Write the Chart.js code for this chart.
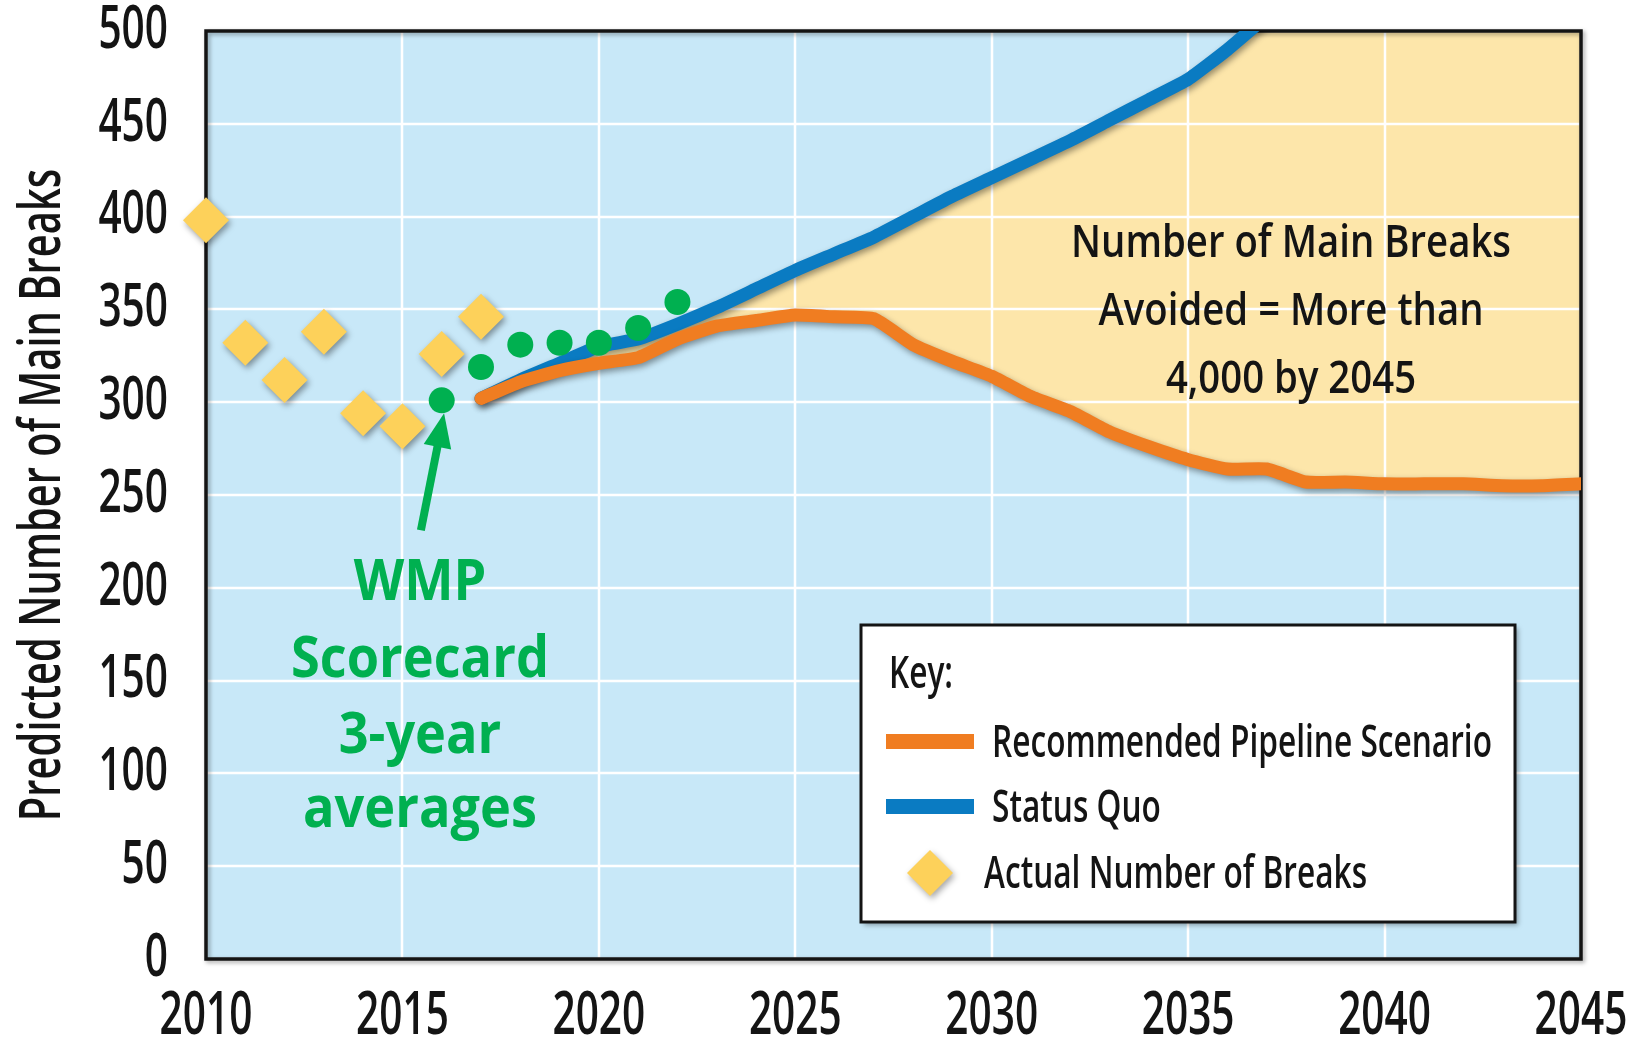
<!DOCTYPE html>
<html>
<head>
<meta charset="utf-8">
<title>Predicted Number of Main Breaks</title>
<script src="https://cdn.jsdelivr.net/npm/chart.js@4.4.1/dist/chart.umd.min.js"></script>
<style>
  html, body { margin: 0; padding: 0; background: #fff; }
  #wrap { width: 1634px; height: 1044px; position: relative; }
</style>
</head>
<body>
<div id="wrap"><canvas id="chart"></canvas></div>
<script>
// Values
const actualYears = [2010, 2011, 2012, 2013, 2014, 2015, 2016, 2017];
const actualBreaks = [398, 332, 312, 338, 294, 287, 326, 346];

const scorecardYears = [2016, 2017, 2018, 2019, 2020, 2021, 2022];
const scorecardAverages = [301, 319, 331, 332, 332, 340, 354];

const recommendedYears = [2017, 2018, 2019, 2020, 2021, 2022, 2023, 2024, 2025, 2026,
    2027, 2028, 2029, 2030, 2031, 2032, 2033, 2034, 2035, 2036,
    2037, 2038, 2039, 2040, 2041, 2042, 2043, 2044, 2045];
const recommendedBreaks = [302, 311, 317, 321, 324, 334, 341, 344, 347, 346,
    345, 331, 322, 314, 303, 295, 284, 276, 269, 264,
    264, 257, 257, 256, 256, 256, 255, 255, 256];

const statusQuoYears = [2017, 2018, 2019, 2020, 2021, 2022, 2023, 2024, 2025, 2026,
    2027, 2028, 2029, 2030, 2031, 2032, 2033, 2034, 2035, 2036, 2037];
const statusQuoBreaks = [302, 312, 321, 330, 334, 342, 351, 361, 371, 380,
    389, 400, 411, 421, 431, 441, 452, 463, 474, 490, 508];

const xTickLabels = ['2010', '2015', '2020', '2025', '2030', '2035', '2040', '2045'];
const yTickLabels = ['0', '50', '100', '150', '200', '250', '300', '350', '400', '450', '500'];

const avoidedNote = ['Number of Main Breaks', 'Avoided = More than', '4,000 by 2045'];
const scorecardNote = ['WMP', 'Scorecard', '3-year', 'averages'];

// Colours
const BG_BLUE = '#C8E8F8';
const AVOIDED_YELLOW = '#FDE6AA';
const ORANGE = '#F07D21';
const BLUE = '#0A7BC2';
const DIAMOND = '#FDD15A';
const GREEN = '#00B050';
const INK = '#141414';

const FONT = '"Open Sans", "Liberation Sans", sans-serif';
const TEXT_WEIGHT = '600';
let condense = 0.7;

function pairs(xs, ys) {
    return xs.map((x, i) => ({ x: x, y: ys[i] }));
}

// narrow face for the axis text: squeeze each string around its anchor
function condensedFillText(text, x, y) {
    this.save();
    this.translate(x, y);
    this.scale(condense, 1);
    CanvasRenderingContext2D.prototype.fillText.call(this, text, 0, 0);
    this.restore();
}

function drawText(ctx, text, x, y, font, sx, align, color) {
    ctx.save();
    ctx.font = font;
    ctx.fillStyle = color;
    ctx.textAlign = align;
    ctx.textBaseline = 'alphabetic';
    ctx.translate(x, y);
    ctx.scale(sx, 1);
    ctx.fillText(text, 0, 0);
    ctx.restore();
}

function diamond(ctx, cx, cy, r) {
    ctx.beginPath();
    ctx.moveTo(cx - r, cy);
    ctx.lineTo(cx, cy - r);
    ctx.lineTo(cx + r, cy);
    ctx.lineTo(cx, cy + r);
    ctx.closePath();
    ctx.fill();
}

const shadowed = ['Recommended Pipeline Scenario', 'Status Quo', 'Actual Number of Breaks'];

const chartDecor = {
    id: 'chartDecor',
    beforeDraw(chart) {
        const ctx = chart.ctx;
        const a = chart.chartArea;
        ctx.save();
        ctx.font = TEXT_WEIGHT + ' 46px ' + FONT;
        condense = 500 / ctx.measureText('Recommended Pipeline Scenario').width;
        ctx.fillStyle = BG_BLUE;
        ctx.fillRect(a.left, a.top, a.right - a.left, a.bottom - a.top);
        ctx.restore();
        ctx.fillText = condensedFillText;
    },
    beforeDatasetsDraw(chart) {
        const ctx = chart.ctx;
        const a = chart.chartArea;
        const xs = chart.scales.x;
        const ys = chart.scales.y;
        delete ctx.fillText;

        // white grid over the filled areas
        ctx.save();
        ctx.strokeStyle = '#ffffff';
        ctx.lineWidth = 2.5;
        ctx.beginPath();
        xs.ticks.forEach(t => {
            const px = Math.round(xs.getPixelForValue(t.value));
            ctx.moveTo(px, a.top);
            ctx.lineTo(px, a.bottom);
        });
        ys.ticks.forEach(t => {
            const py = Math.round(ys.getPixelForValue(t.value));
            ctx.moveTo(a.left, py);
            ctx.lineTo(a.right, py);
        });
        ctx.stroke();

        // frame
        ctx.shadowColor = 'rgba(0,0,0,0.35)';
        ctx.shadowBlur = 4;
        ctx.shadowOffsetX = 2;
        ctx.shadowOffsetY = 2;
        ctx.strokeStyle = INK;
        ctx.lineWidth = 3.5;
        ctx.strokeRect(a.left, a.top, a.right - a.left, a.bottom - a.top);
        ctx.restore();
    },
    beforeDatasetDraw(chart, args) {
        const ds = chart.data.datasets[args.index];
        if (shadowed.indexOf(ds.label) === -1) return;
        const ctx = chart.ctx;
        ctx.save();
        ctx.shadowColor = 'rgba(0,0,0,0.4)';
        ctx.shadowBlur = 6;
        ctx.shadowOffsetX = 2;
        ctx.shadowOffsetY = 3;
    },
    afterDatasetDraw(chart, args) {
        const ds = chart.data.datasets[args.index];
        if (shadowed.indexOf(ds.label) === -1) return;
        chart.ctx.restore();
    },
    afterDatasetsDraw(chart) {
        const ctx = chart.ctx;
        const xs = chart.scales.x;
        const ys = chart.scales.y;

        // avoided breaks note
        const noteFont = TEXT_WEIGHT + ' 45px ' + FONT;
        ctx.save();
        ctx.font = noteFont;
        const noteScale = 440 / ctx.measureText(avoidedNote[0]).width;
        ctx.restore();
        avoidedNote.forEach((line, i) => {
            drawText(ctx, line, 1291, 257 + i * 68, noteFont, noteScale, 'center', INK);
        });

        // scorecard note and arrow
        const boldFont = 'bold 57px ' + FONT;
        ctx.save();
        ctx.font = boldFont;
        const greenScale = 258 / ctx.measureText('Scorecard').width;
        ctx.restore();
        const greenBase = [600, 677, 753, 827];
        scorecardNote.forEach((line, i) => {
            drawText(ctx, line, 420, greenBase[i], boldFont, greenScale, 'center', GREEN);
        });

        const p0 = { x: xs.getPixelForValue(2015.47), y: ys.getPixelForValue(231) };
        const p1 = { x: xs.getPixelForValue(2016.06), y: ys.getPixelForValue(294) };
        const dx = p1.x - p0.x;
        const dy = p1.y - p0.y;
        const len = Math.hypot(dx, dy);
        const ux = dx / len;
        const uy = dy / len;
        const bx = p1.x - ux * 34;
        const by = p1.y - uy * 34;
        ctx.save();
        ctx.strokeStyle = GREEN;
        ctx.fillStyle = GREEN;
        ctx.lineWidth = 8;
        ctx.beginPath();
        ctx.moveTo(p0.x, p0.y);
        ctx.lineTo(bx + ux * 2, by + uy * 2);
        ctx.stroke();
        ctx.beginPath();
        ctx.moveTo(p1.x, p1.y);
        ctx.lineTo(bx - uy * 14, by + ux * 14);
        ctx.lineTo(bx + uy * 14, by - ux * 14);
        ctx.closePath();
        ctx.fill();
        ctx.restore();
    },
    afterDraw(chart) {
        const ctx = chart.ctx;
        const sets = chart.data.datasets;
        const box = { x: 861, y: 625, w: 654, h: 297 };

        ctx.save();
        ctx.shadowColor = 'rgba(0,0,0,0.35)';
        ctx.shadowBlur = 5;
        ctx.shadowOffsetX = 3;
        ctx.shadowOffsetY = 3;
        ctx.fillStyle = '#ffffff';
        ctx.fillRect(box.x, box.y, box.w, box.h);
        ctx.shadowColor = 'rgba(0,0,0,0)';
        ctx.strokeStyle = INK;
        ctx.lineWidth = 3;
        ctx.strokeRect(box.x, box.y, box.w, box.h);
        ctx.restore();

        const font = TEXT_WEIGHT + ' 46px ' + FONT;
        drawText(ctx, 'Key:', 889, 688, font, condense, 'left', INK);

        const orange = sets.find(d => d.label === 'Recommended Pipeline Scenario');
        const blue = sets.find(d => d.label === 'Status Quo');
        const actual = sets.find(d => d.label === 'Actual Number of Breaks');

        ctx.save();
        ctx.fillStyle = orange.borderColor;
        ctx.fillRect(886, 734, 88, 15);
        ctx.fillStyle = blue.borderColor;
        ctx.fillRect(886, 799, 88, 15);
        ctx.shadowColor = 'rgba(0,0,0,0.35)';
        ctx.shadowBlur = 6;
        ctx.shadowOffsetX = 2;
        ctx.shadowOffsetY = 3;
        ctx.fillStyle = actual.pointBackgroundColor;
        diamond(ctx, 930, 873, 23);
        ctx.restore();

        drawText(ctx, orange.label, 992, 757, font, condense, 'left', INK);
        drawText(ctx, blue.label, 992, 822, font, condense, 'left', INK);
        drawText(ctx, actual.label, 984, 888, font, condense, 'left', INK);
    }
};

new Chart(document.getElementById('chart'), {
    type: 'line',
    data: {
        datasets: [
            {
                label: 'WMP Scorecard 3-year averages',
                data: pairs(scorecardYears, scorecardAverages),
                showLine: false,
                pointRadius: 13,
                pointHoverRadius: 13,
                pointBackgroundColor: GREEN,
                pointBorderWidth: 0,
                order: 0
            },
            {
                label: 'Actual Number of Breaks',
                data: pairs(actualYears, actualBreaks),
                showLine: false,
                pointStyle: 'rectRot',
                pointRadius: 23,
                pointHoverRadius: 23,
                pointBackgroundColor: DIAMOND,
                pointBorderWidth: 0,
                clip: false,
                order: 1
            },
            {
                label: 'Recommended Pipeline Scenario',
                data: pairs(recommendedYears, recommendedBreaks),
                borderColor: ORANGE,
                borderWidth: 13,
                borderCapStyle: 'round',
                borderJoinStyle: 'round',
                tension: 0.15,
                pointRadius: 0,
                fill: false,
                clip: 0,
                order: 2
            },
            {
                label: 'Status Quo',
                data: pairs(statusQuoYears, statusQuoBreaks),
                borderColor: BLUE,
                borderWidth: 13,
                borderCapStyle: 'round',
                borderJoinStyle: 'round',
                tension: 0.15,
                pointRadius: 0,
                fill: 'end',
                backgroundColor: BG_BLUE,
                clip: 0,
                order: 3
            },
            {
                label: 'Number of Main Breaks Avoided',
                data: pairs(recommendedYears, recommendedBreaks),
                borderColor: 'rgba(0,0,0,0)',
                borderWidth: 0,
                tension: 0.15,
                pointRadius: 0,
                fill: 'end',
                backgroundColor: AVOIDED_YELLOW,
                order: 4
            }
        ]
    },
    options: {
        responsive: true,
        maintainAspectRatio: false,
        animation: false,
        events: [],
        layout: { padding: { top: 31, right: 53, bottom: 0, left: 0 } },
        plugins: {
            legend: { display: false },
            tooltip: { enabled: false },
            filler: { drawTime: 'beforeDatasetsDraw' }
        },
        scales: {
            x: {
                type: 'linear',
                min: 2010,
                max: 2045,
                grid: { display: false, drawTicks: false },
                border: { display: false },
                ticks: {
                    stepSize: 5,
                    autoSkip: false,
                    maxRotation: 0,
                    padding: 23,
                    color: INK,
                    font: { family: FONT, size: 59, weight: TEXT_WEIGHT },
                    callback: (v, i) => xTickLabels[i]
                },
                afterFit: s => { s.height = 85; s.paddingLeft = 0; s.paddingRight = 0; }
            },
            y: {
                min: 0,
                max: 500,
                grid: { display: false, drawTicks: false },
                border: { display: false },
                ticks: {
                    stepSize: 50,
                    padding: 38,
                    color: INK,
                    font: { family: FONT, size: 59, weight: TEXT_WEIGHT },
                    callback: (v, i) => yTickLabels[i]
                },
                title: {
                    display: true,
                    text: 'Predicted Number of Main Breaks',
                    color: INK,
                    font: { family: FONT, size: 58, weight: TEXT_WEIGHT },
                    padding: { top: 9, bottom: 0 }
                },
                afterFit: s => { s.width = 206; s.paddingTop = 0; s.paddingBottom = 0; }
            }
        }
    },
    plugins: [chartDecor]
});
</script>
</body>
</html>
